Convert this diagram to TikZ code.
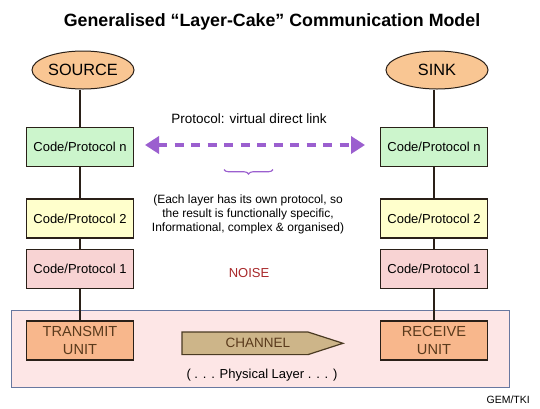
\documentclass[tikz,border=0pt]{standalone}
\usepackage{fontspec}
\setmainfont{Liberation Sans}
\usetikzlibrary{shapes.geometric,arrows.meta,decorations.pathreplacing}
\definecolor{peach}{HTML}{F9C693}
\definecolor{lgreen}{HTML}{CCF5CC}
\definecolor{lyellow}{HTML}{FFFFCC}
\definecolor{lpink}{HTML}{F8D3D3}
\definecolor{unitorange}{HTML}{F8B78C}
\definecolor{physfill}{HTML}{FDE6E6}
\definecolor{physborder}{HTML}{6878A0}
\definecolor{chanfill}{HTML}{CDB589}
\definecolor{chanborder}{HTML}{4A3A22}
\definecolor{arrowpurple}{HTML}{9B5FCF}
\definecolor{noisered}{HTML}{A8282A}
\definecolor{unittext}{HTML}{5A3A1C}
\definecolor{edge}{HTML}{2A2018}
\begin{document}
\begin{tikzpicture}[x=1pt,y=-1pt,
  endpoint/.style={ellipse,draw=edge,line width=1pt,fill=peach,minimum width=102pt,minimum height=38pt,inner sep=0pt,font=\fontsize{16.3}{18}\selectfont},
  layerbox/.style={rectangle,draw=edge,line width=1.3pt,minimum width=107pt,minimum height=39pt,inner sep=0pt,font=\fontsize{13}{15}\selectfont},
  unitbox/.style={layerbox,fill=unitorange,text=unittext,align=center,font=\fontsize{14.6}{17.5}\selectfont},
  link/.style={draw=edge,line width=1.1pt},
  smalltext/.style={font=\fontsize{12}{14}\selectfont,align=center,inner sep=0pt}
  ]
\useasboundingbox (0,0) rectangle (540,408);
\fill[white] (0,0) rectangle (540,408);
% title
\node[font=\fontsize{17.8}{20}\bfseries, inner sep=0pt] (title) at (272,22) {Generalised “Layer-Cake” Communication Model};
% physical layer rectangle
\node[rectangle,draw=physborder,fill=physfill,line width=0.9pt,minimum width=498pt,minimum height=77pt,inner sep=0pt] (phys) at (260,348.5) {};
% endpoints
\node[endpoint] (source) at (83,70) {SOURCE};
\node[endpoint] (sink) at (437,70) {SINK};
% layer boxes left
\node[layerbox,fill=lgreen] (ln) at (80,147) {Code/Protocol n};
\node[layerbox,fill=lyellow] (l2) at (80,218.5) {Code/Protocol 2};
\node[layerbox,fill=lpink] (l1) at (80,269) {Code/Protocol 1};
\node[unitbox] (tx) at (80,340.5) {TRANSMIT\\UNIT};
% layer boxes right
\node[layerbox,fill=lgreen] (rn) at (434,147) {Code/Protocol n};
\node[layerbox,fill=lyellow] (r2) at (434,218.5) {Code/Protocol 2};
\node[layerbox,fill=lpink] (r1) at (434,269) {Code/Protocol 1};
\node[unitbox] (rx) at (434,340.5) {RECEIVE\\UNIT};
% vertical links
\draw[link] (source.south -| ln.north) -- (ln.north);
\draw[link] (ln.south) -- (l2.north);
\draw[link] (l2.south) -- (l1.north);
\draw[link] (l1.south) -- (tx.north);
\draw[link] (sink.south -| rn.north) -- (rn.north);
\draw[link] (rn.south) -- (r2.north);
\draw[link] (r2.south) -- (r1.north);
\draw[link] (r1.south) -- (rx.north);
% protocol virtual link
\node[font=\fontsize{13.5}{16}\selectfont,inner sep=0pt] (plabel) at (249,119) {Protocol: virtual direct link};
\coordinate (pl) at (145,145);
\coordinate (pr) at (365,145);
\draw[arrowpurple,line width=3.6pt,dash pattern=on 9pt off 7.5pt,
  {Triangle[length=14pt,width=17pt]}-{Triangle[length=14pt,width=17pt]}] (pl) -- (pr);
% brace
\coordinate (bl) at (224,169.5);
\coordinate (br) at (273,169.5);
\draw[arrowpurple,line width=1.1pt,decorate,decoration={brace,amplitude=4.5pt}] (br) -- (bl);
% explanation
\node[smalltext] (expl) at (248,214) {(Each layer has its own protocol, so\\the result is functionally specific,\\Informational, complex \& organised)};
\node[font=\fontsize{13}{15}\selectfont,text=noisered,inner sep=0pt] (noise) at (249,273) {NOISE};
% channel
\draw[draw=chanborder,fill=chanfill,line width=1.2pt] (182,332) -- (308,332) -- (343,343.3) -- (308,354.6) -- (182,354.6) -- cycle;
\node[font=\fontsize{13.5}{15}\selectfont,text=unittext,inner sep=0pt] (chan) at (258,343.3) {CHANNEL};
\node[font=\fontsize{13}{15}\selectfont,inner sep=0pt] (physlbl) at (262,375) {( . . . Physical Layer . . . )};
\node[font=\fontsize{10.5}{12}\selectfont,inner sep=0pt,anchor=east] (credit) at (530,400) {GEM/TKI};
\end{tikzpicture}
\end{document}
